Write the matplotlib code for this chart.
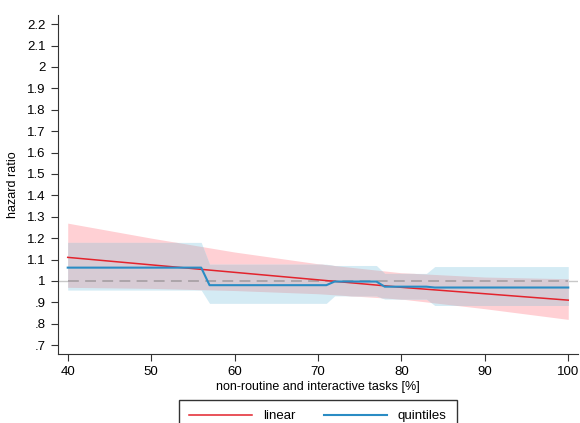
import numpy as np
import matplotlib
matplotlib.use("Agg")
from matplotlib import pyplot as plt

plt.rcParams['font.family'] = ['Liberation Sans', 'DejaVu Sans']

# linear model: hazard ratio and 95% CI
lin_x = [40, 50, 60, 70, 80, 90, 100]
lin_est = [1.11, 1.075, 1.04, 1.005, 0.97, 0.94, 0.91]
lin_lo = [0.97, 0.965, 0.955, 0.94, 0.915, 0.87, 0.82]
lin_hi = [1.27, 1.20, 1.135, 1.08, 1.038, 1.018, 1.01]

# quintile model (step function)
q_x = [40, 56, 57, 71, 72, 77, 78, 83, 84, 100]
q_est = [1.062, 1.062, 0.98, 0.98, 0.997, 0.997, 0.973, 0.973, 0.969, 0.969]
q_lo = [0.957, 0.957, 0.895, 0.895, 0.93, 0.93, 0.915, 0.915, 0.885, 0.885]
q_hi = [1.18, 1.18, 1.078, 1.078, 1.072, 1.072, 1.035, 1.035, 1.067, 1.067]

yticks = [0.7, 0.8, 0.9, 1.0, 1.1, 1.2, 1.3, 1.4, 1.5, 1.6, 1.7, 1.8, 1.9, 2.0, 2.1, 2.2]
ylabels = ['.7', '.8', '.9', '1', '1.1', '1.2', '1.3', '1.4', '1.5', '1.6', '1.7',
           '1.8', '1.9', '2', '2.1', '2.2']
xticks = [40, 50, 60, 70, 80, 90, 100]

red = '#e3232c'
blue = '#2a8cc4'

fig = plt.figure(figsize=(5.8, 4.23), dpi=100)
ax = fig.add_axes([0.0995, 0.163, 0.8975, 0.8015])

ax.axhline(1, color='#c8c8c8', lw=1, zorder=1)

ax.fill_between(lin_x, lin_lo, lin_hi, color='#ffd0d4', lw=0, zorder=2)
ax.fill_between(q_x, q_lo, q_hi, color='#d4ebf4', lw=0, zorder=2)

# overlap of both bands in grey
grid = np.union1d(np.linspace(40, 100, 601), q_x)
lo = np.maximum(np.interp(grid, lin_x, lin_lo), np.interp(grid, q_x, q_lo))
hi = np.minimum(np.interp(grid, lin_x, lin_hi), np.interp(grid, q_x, q_hi))
ax.fill_between(grid, lo, hi, where=hi > lo, color='#d7cbd4', lw=0, zorder=3)

ax.plot([40, 100], [1, 1], color='#a9a1a6', lw=1.3, dashes=(6, 3.5), zorder=4)
ax.plot(lin_x, lin_est, color=red, lw=1.1, zorder=5, label='linear')
ax.plot(q_x, q_est, color=blue, lw=1.5, zorder=6, label='quintiles')

ax.set_xlim(38.8, 101.2)
ax.set_ylim(0.658, 2.243)
ax.set_xticks(xticks)
ax.set_yticks(yticks)
ax.set_yticklabels(ylabels)
ax.tick_params(labelsize=9.5, length=5, width=0.8, color='#333333')
for s in ['top', 'right']:
    ax.spines[s].set_visible(False)
for s in ['left', 'bottom']:
    ax.spines[s].set_color('#333333')
ax.set_xlabel('non-routine and interactive tasks [%]', fontsize=9, labelpad=2)
ax.set_ylabel('hazard ratio', fontsize=9, labelpad=6)

fig.legend(loc='upper center', bbox_to_anchor=(0.548, 0.0544), ncol=2,
           frameon=True, fancybox=False, edgecolor='black', fontsize=9.5,
           handlelength=4.8, handletextpad=0.8, columnspacing=2.2,
           borderpad=0.75, borderaxespad=0)

fig.savefig('out.png', dpi=100)
